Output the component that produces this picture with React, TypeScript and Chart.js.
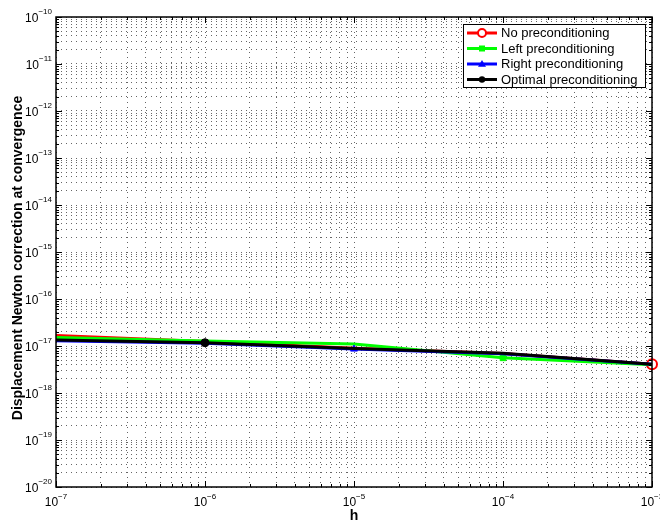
import { useEffect, useRef } from "react";
import { Chart, registerables } from "chart.js";

Chart.register(...registerables);

const hValues = [1e-7, 1e-6, 1e-5, 1e-4, 1e-3];
const noPrecond = [1.67e-17, 1.25e-17, 9.0e-18, 6.9e-18, 4.07e-18];
const leftPrecond = [1.52e-17, 1.28e-17, 1.1e-17, 5.6e-18, 4.0e-18];
const rightPrecond = [1.3e-17, 1.15e-17, 8.6e-18, 6.85e-18, 4.07e-18];
const optimalPrecond = [1.34e-17, 1.175e-17, 8.9e-18, 6.97e-18, 4.07e-18];

const seriesLabels = [
  "No preconditioning",
  "Left preconditioning",
  "Right preconditioning",
  "Optimal preconditioning",
];
const seriesColors = ["#ff0000", "#00ff00", "#0000ff", "#000000"];
const markerStyles = ["circle", "rect", "triangle", "circle"];
const markerIndex = [4, 3, 2, 1];

const xTickExponents = [-7, -6, -5, -4, -3];
const yTickExponents = [-20, -19, -18, -17, -16, -15, -14, -13, -12, -11, -10];

const xTitle = "h";
const yTitle = "Displacement Newton correction at convergence";

const FONT = "'Liberation Sans', Arial, Helvetica, sans-serif";

function minorTicks(minExp: number, maxExp: number) {
  const out: { value: number }[] = [];
  for (let e = minExp; e < maxExp; e++) {
    for (let m = 1; m <= 9; m++) out.push({ value: m * Math.pow(10, e) });
  }
  out.push({ value: Math.pow(10, maxExp) });
  return out;
}

function supLabel(exp: number) {
  return "\u2212" + String(Math.abs(exp));
}

function drawMarker(ctx: CanvasRenderingContext2D, style: string, x: number, y: number, color: string, r: number) {
  ctx.save();
  ctx.strokeStyle = color;
  ctx.fillStyle = color;
  ctx.lineWidth = 2;
  ctx.beginPath();
  if (style === "circle" && color === "#ff0000") {
    ctx.fillStyle = "#ffffff";
    ctx.arc(x, y, r, 0, Math.PI * 2);
    ctx.fill();
    ctx.stroke();
  } else if (style === "circle") {
    ctx.arc(x, y, r * 0.8, 0, Math.PI * 2);
    ctx.fill();
  } else if (style === "rect") {
    ctx.rect(x - r * 0.75, y - r * 0.75, r * 1.5, r * 1.5);
    ctx.fill();
  } else if (style === "triangle") {
    ctx.moveTo(x, y - r);
    ctx.lineTo(x + r, y + r * 0.7);
    ctx.lineTo(x - r, y + r * 0.7);
    ctx.closePath();
    ctx.fill();
  }
  ctx.restore();
}

const decorPlugin = {
  id: "decor",
  afterDraw(chart: any) {
    const ctx: CanvasRenderingContext2D = chart.ctx;
    const { left, right, top, bottom } = chart.chartArea;
    const xs = chart.scales.x;
    const ys = chart.scales.y;
    ctx.save();

    // box
    ctx.strokeStyle = "#000";
    ctx.lineWidth = 1.5;
    ctx.strokeRect(left, top, right - left, bottom - top);

    // inner tick marks
    ctx.lineWidth = 1;
    const xt = minorTicks(xTickExponents[0], xTickExponents[xTickExponents.length - 1]);
    xt.forEach((t) => {
      const px = Math.round(xs.getPixelForValue(t.value)) + 0.5;
      const major = Math.abs(Math.log10(t.value) - Math.round(Math.log10(t.value))) < 1e-9;
      const len = major ? 6 : 3;
      ctx.beginPath();
      ctx.moveTo(px, bottom);
      ctx.lineTo(px, bottom - len);
      ctx.moveTo(px, top);
      ctx.lineTo(px, top + len);
      ctx.stroke();
    });
    const yt = minorTicks(yTickExponents[0], yTickExponents[yTickExponents.length - 1]);
    yt.forEach((t) => {
      const py = Math.round(ys.getPixelForValue(t.value)) + 0.5;
      const major = Math.abs(Math.log10(t.value) - Math.round(Math.log10(t.value))) < 1e-9;
      const len = major ? 6 : 3;
      ctx.beginPath();
      ctx.moveTo(left, py);
      ctx.lineTo(left + len, py);
      ctx.moveTo(right, py);
      ctx.lineTo(right - len, py);
      ctx.stroke();
    });

    // tick labels
    ctx.fillStyle = "#000";
    ctx.textBaseline = "middle";
    const baseFont = `12px ${FONT}`;
    const expFont = `8px ${FONT}`;
    yTickExponents.forEach((e) => {
      const py = ys.getPixelForValue(Math.pow(10, e));
      ctx.font = expFont;
      const ew = ctx.measureText(supLabel(e)).width;
      ctx.font = baseFont;
      const bw = ctx.measureText("10").width;
      const xEnd = left - 4;
      ctx.textAlign = "left";
      ctx.fillText("10", xEnd - ew - bw, py + 1.5);
      ctx.font = expFont;
      ctx.fillText(supLabel(e), xEnd - ew, py - 5.5);
    });
    xTickExponents.forEach((e) => {
      const px = xs.getPixelForValue(Math.pow(10, e));
      ctx.font = expFont;
      const ew = ctx.measureText(supLabel(e)).width;
      ctx.font = baseFont;
      const bw = ctx.measureText("10").width;
      const x0 = px - (bw + ew) / 2;
      ctx.textAlign = "left";
      ctx.fillText("10", x0, bottom + 16);
      ctx.font = expFont;
      ctx.fillText(supLabel(e), x0 + bw, bottom + 9.5);
    });

    // axis titles
    ctx.font = `bold 14px ${FONT}`;
    ctx.textAlign = "center";
    ctx.fillText(xTitle, (left + right) / 2, bottom + 29);
    ctx.save();
    ctx.translate(18, 258);
    ctx.rotate(-Math.PI / 2);
    ctx.fillText(yTitle, 0, 0);
    ctx.restore();

    // legend
    const lx = 463, ly = 24, lw = 182, lh = 63;
    ctx.fillStyle = "#fff";
    ctx.fillRect(lx, ly, lw, lh);
    ctx.strokeStyle = "#000";
    ctx.lineWidth = 1;
    ctx.strokeRect(lx + 0.5, ly + 0.5, lw, lh);
    ctx.font = `13px ${FONT}`;
    ctx.textAlign = "left";
    ctx.textBaseline = "middle";
    seriesLabels.forEach((label, i) => {
      const yy = ly + 9 + i * 15.5;
      ctx.strokeStyle = seriesColors[i];
      ctx.lineWidth = 3;
      ctx.beginPath();
      ctx.moveTo(lx + 4, yy);
      ctx.lineTo(lx + 34, yy);
      ctx.stroke();
      drawMarker(ctx, markerStyles[i], lx + 19, yy, seriesColors[i], 4);
      ctx.fillStyle = "#000";
      ctx.fillText(label, lx + 38, yy + 0.5);
    });

    ctx.restore();
  },
};

export default function App() {
  const canvasRef = useRef<HTMLCanvasElement | null>(null);

  useEffect(() => {
    const canvas = canvasRef.current;
    if (!canvas) return;
    const seriesData = [noPrecond, leftPrecond, rightPrecond, optimalPrecond];
    const datasets = seriesData.map((vals, i) => ({
      label: seriesLabels[i],
      data: hValues.map((h, j) => ({ x: h, y: vals[j] })),
      borderColor: seriesColors[i],
      backgroundColor: i === 0 ? "#ffffff" : seriesColors[i],
      borderWidth: 3,
      pointStyle: markerStyles[i] as any,
      pointRadius: hValues.map((_, j) => (j === markerIndex[i] ? (i === 0 ? 5 : 4) : 0)),
      pointBorderWidth: i === 0 ? 2 : 1,
      pointBorderColor: seriesColors[i],
      pointBackgroundColor: i === 0 ? "#ffffff" : seriesColors[i],
      tension: 0,
      fill: false,
      clip: false,
      order: 3 - i,
    }));

    const gridOpts = {
      color: "rgba(0,0,0,0.6)",
      lineWidth: 1,
      drawTicks: false,
    };

    const chart = new Chart(canvas, {
      type: "line",
      data: { datasets },
      options: {
        animation: false,
        responsive: false,
        devicePixelRatio: 1,
        layout: { padding: { left: 56, right: 8, top: 17, bottom: 37 } },
        plugins: { legend: { display: false }, tooltip: { enabled: false } },
        scales: {
          x: {
            type: "logarithmic",
            min: 1e-7,
            max: 1e-3,
            ticks: { display: false },
            border: { display: false, dash: [1, 4] },
            grid: gridOpts,
            afterBuildTicks: (scale: any) => {
              scale.ticks = minorTicks(xTickExponents[0], xTickExponents[xTickExponents.length - 1]);
            },
          },
          y: {
            type: "logarithmic",
            min: 1e-20,
            max: 1e-10,
            ticks: { display: false },
            border: { display: false, dash: [1, 4] },
            grid: gridOpts,
            afterBuildTicks: (scale: any) => {
              scale.ticks = minorTicks(yTickExponents[0], yTickExponents[yTickExponents.length - 1]);
            },
          },
        },
      } as any,
      plugins: [decorPlugin],
    });
    return () => chart.destroy();
  }, []);

  return (
    <div style={{ position: "fixed", left: 0, top: 0, width: 660, height: 524, background: "#fff" }}>
      <canvas ref={canvasRef} width={660} height={524} style={{ display: "block" }} />
    </div>
  );
}
